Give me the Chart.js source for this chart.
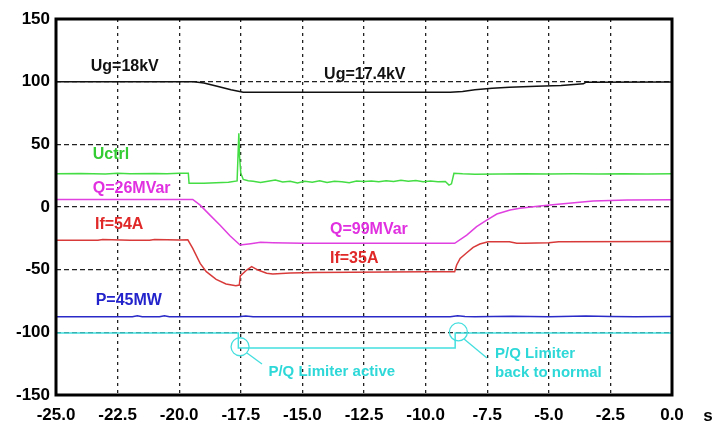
<!DOCTYPE html>
<html><head><meta charset="utf-8">
<script src="https://cdn.jsdelivr.net/npm/chart.js@4"></script>
<style>html,body{margin:0;padding:0;background:#fff;}#wrap{width:712px;height:430px;}</style>
</head><body><div id="wrap"><canvas id="c" width="712" height="430"></canvas></div>
<script>
// ---- data (time in s, values in chart units) ----
const xTicks = [-25, -22.5, -20, -17.5, -15, -12.5, -10, -7.5, -5, -2.5, 0];
const yTicks = [-150, -100, -50, 0, 50, 100, 150];

const ugT = [-25, -19.4, -19.0, -18.5, -17.9, -17.4, -9.0, -8.5, -8.0, -7.3, -6.6, -5.5, -4.5, -3.6, -3.5, 0];
const ugV = [100, 100, 99, 96.5, 93.5, 91.5, 91.5, 92.2, 93.5, 94.7, 95.5, 96.3, 97.0, 98.3, 99.5, 99.7];

const ucT = [-25, -24, -23, -22.5, -22, -21, -20.5, -20, -19.63, -19.6, -19, -18.5, -18, -17.65, -17.58, -17.55, -17.5, -17.4, -17.2, -17, -16.7, -16.4, -16.1, -15.8, -15.5, -15.2, -14.9, -14.6, -14.3, -14, -13.7, -13.4, -13.1, -12.8, -12.5, -12.2, -11.9, -11.6, -11.3, -11, -10.7, -10.4, -10.1, -9.8, -9.5, -9.2, -9.05, -8.95, -8.85, -8.5, -8, -7, -6, -5, -4, -3, -2, -1, 0];
const ucV = [26.5, 26.8, 26.4, 27, 26.6, 26.8, 26.5, 27, 27, 19, 19, 19.4, 19.8, 20.8, 58.8, 40, 27, 22, 21, 20.5, 19.5, 20.5, 21.5, 20, 20.6, 19.2, 20.5, 19.8, 20.9, 19.5, 20.6, 20.2, 19.4, 20.8, 20.3, 20.7, 20.1, 20.9, 20.4, 21.3, 20.6, 21.2, 20.1, 20.7, 20.2, 20.4, 17.5, 18.5, 26.9, 26.5, 26.2, 26.4, 26.6, 26.3, 26.5, 26.4, 26.6, 26.3, 26.5];

const qT = [-25, -19.45, -19.15, -18.75, -18.34, -17.94, -17.53, -17.1, -16.7, -16.2, -15, -12, -8.82, -8.33, -7.93, -7.52, -7.11, -6.57, -6.17, -5.36, -4.63, -3.2, -1.83, 0];
const qV = [6, 6, 1.5, -6.5, -14.5, -23, -30.3, -29.3, -28.2, -28.5, -29, -29, -29, -22.4, -15.7, -10.4, -5.6, -2.4, -1, 0.8, 2.1, 4.8, 5.6, 5.8];

const ifT = [-25, -23.3, -23.1, -22, -21.2, -21.0, -20, -19.65, -19.45, -19.15, -18.9, -18.5, -18.1, -17.7, -17.56, -17.52, -17.26, -17.06, -16.8, -16.45, -16.2, -15.5, -14.5, -13, -11.5, -10, -8.82, -8.74, -8.6, -8.33, -8.07, -7.8, -7.46, -6.6, -6.3, -6.0, -5.0, -4.6, 0];
const ifV = [-26.5, -26.5, -26, -26.5, -26.5, -26.0, -26.3, -26.2, -33, -45, -51.6, -57.7, -61.4, -62.8, -62.3, -55, -50.3, -47.6, -50.3, -52.9, -53.5, -52.7, -52.3, -52, -51.8, -51.6, -51.6, -46.3, -41, -36.5, -32.2, -29.5, -27.7, -27.7, -28.9, -28.9, -28.6, -27.8, -27.6];

const pT = [-25, -21.9, -21.7, -21.5, -20.8, -20.6, -20.4, -17.6, -17.3, -17.0, -12, -9, -8.7, -8.4, -8.0, -6.5, -5.0, -3.5, -2.5, -1.5, 0];
const pV = [-87.6, -87.6, -86.8, -87.6, -87.6, -86.8, -87.6, -87.6, -86.9, -87.6, -87.5, -87.5, -86.8, -87.3, -87.6, -87.2, -87.5, -87.0, -87.3, -87.6, -87.4];

const limT = [-25, -17.6, -17.6, -8.8, -8.8, 0];
const limV = [-100.5, -100.5, -112.5, -112.5, -100.5, -100.5];

// text labels: [text, t, v, color]
const labels = [
  ["Ug=18kV", -23.59, 112, "#111111"],
  ["Ug=17.4kV", -14.12, 105.3, "#111111"],
  ["Uctrl", -23.51, 41.5, "#33cc33"],
  ["Q=26MVar", -23.51, 14.4, "#e030e0"],
  ["If=54A", -23.42, -14.4, "#e02828"],
  ["Q=99MVar", -13.88, -18.4, "#e030e0"],
  ["If=35A", -13.88, -40.9, "#e02828"],
  ["P=45MW", -23.39, -75, "#2323cc"]
];
const noteLabels = [
  ["P/Q Limiter active", -16.38, -131.4],
  ["P/Q Limiter", -7.18, -117.3],
  ["back to normal", -7.18, -132.7]
];
// circles: [t, v]; leaders: [t1, v1, t2, v2]
const circles = [[-17.53, -111.5], [-8.67, -99.7]];
const leaders = [[-17.25, -116.5, -16.64, -125.3], [-8.44, -105.3, -7.51, -120.5]];

function pts(t, v) { return t.map((x, i) => ({x: x, y: v[i]})); }

function ds(t, v, color) {
  return {data: pts(t, v), borderColor: color, borderWidth: 1.5, pointRadius: 0, tension: 0, fill: false};
}

const overlay = {
  id: 'overlay',
  afterDatasetsDraw(chart) {
    const ctx = chart.ctx, xs = chart.scales.x, ys = chart.scales.y, a = chart.chartArea;
    ctx.save();
    // cyan annotation
    ctx.strokeStyle = '#44dede';
    ctx.lineWidth = 1.3;
    circles.forEach(c => {
      ctx.beginPath();
      ctx.arc(xs.getPixelForValue(c[0]), ys.getPixelForValue(c[1]), 9, 0, Math.PI * 2);
      ctx.stroke();
    });
    leaders.forEach(l => {
      ctx.beginPath();
      ctx.moveTo(xs.getPixelForValue(l[0]), ys.getPixelForValue(l[1]));
      ctx.lineTo(xs.getPixelForValue(l[2]), ys.getPixelForValue(l[3]));
      ctx.stroke();
    });
    ctx.textAlign = 'left';
    ctx.textBaseline = 'middle';
    ctx.font = 'bold 15px "Liberation Sans", Arial, sans-serif';
    ctx.fillStyle = '#2ed8d8';
    noteLabels.forEach(n => ctx.fillText(n[0], xs.getPixelForValue(n[1]), ys.getPixelForValue(n[2])));
    ctx.font = 'bold 16px "Liberation Sans", Arial, sans-serif';
    labels.forEach(l => {
      ctx.fillStyle = l[3];
      ctx.fillText(l[0], xs.getPixelForValue(l[1]), ys.getPixelForValue(l[2]));
    });
    // frame
    ctx.strokeStyle = '#000';
    ctx.lineWidth = 3;
    ctx.strokeRect(a.left, a.top, a.right - a.left, a.bottom - a.top);
    // unit
    ctx.fillStyle = '#000';
    ctx.font = 'bold 17px "Liberation Sans", Arial, sans-serif';
    ctx.textAlign = 'center';
    ctx.fillText('s', a.right + 36, a.bottom + 21);
    ctx.restore();
  }
};

Chart.defaults.font.family = '"Liberation Sans", Arial, sans-serif';
Chart.defaults.color = '#000';

new Chart(document.getElementById('c'), {
  type: 'line',
  data: {
    datasets: [
      ds(limT, limV, '#44e0e0'),
      ds(pT, pV, '#2a2ac8'),
      ds(ifT, ifV, '#d83a3a'),
      ds(qT, qV, '#e040e0'),
      ds(ucT, ucV, '#44dd44'),
      ds(ugT, ugV, '#111111')
    ]
  },
  options: {
    responsive: false,
    animation: false,
    layout: {padding: {top: 19, right: 40, left: 0, bottom: 0}},
    plugins: {legend: {display: false}, tooltip: {enabled: false}},
    scales: {
      x: {
        type: 'linear', min: -25, max: 0,
        afterBuildTicks: s => { s.ticks = xTicks.map(v => ({value: v})); },
        afterFit: s => { s.height = 35; },
        ticks: {autoSkip: false, maxRotation: 0, padding: 10, font: {size: 17, weight: 'bold'},
          callback: v => Number(v).toFixed(1)},
        grid: {color: '#222', lineWidth: 1.3, drawTicks: false},
        border: {display: false, dash: [3, 4]}
      },
      y: {
        type: 'linear', min: -150, max: 150,
        afterBuildTicks: s => { s.ticks = yTicks.map(v => ({value: v})); },
        afterFit: s => { s.width = 56; },
        ticks: {padding: 6, font: {size: 17, weight: 'bold'}},
        grid: {color: '#222', lineWidth: 1.3, drawTicks: false},
        border: {display: false, dash: [5, 3]}
      }
    }
  },
  plugins: [overlay]
});
</script>
</body></html>
